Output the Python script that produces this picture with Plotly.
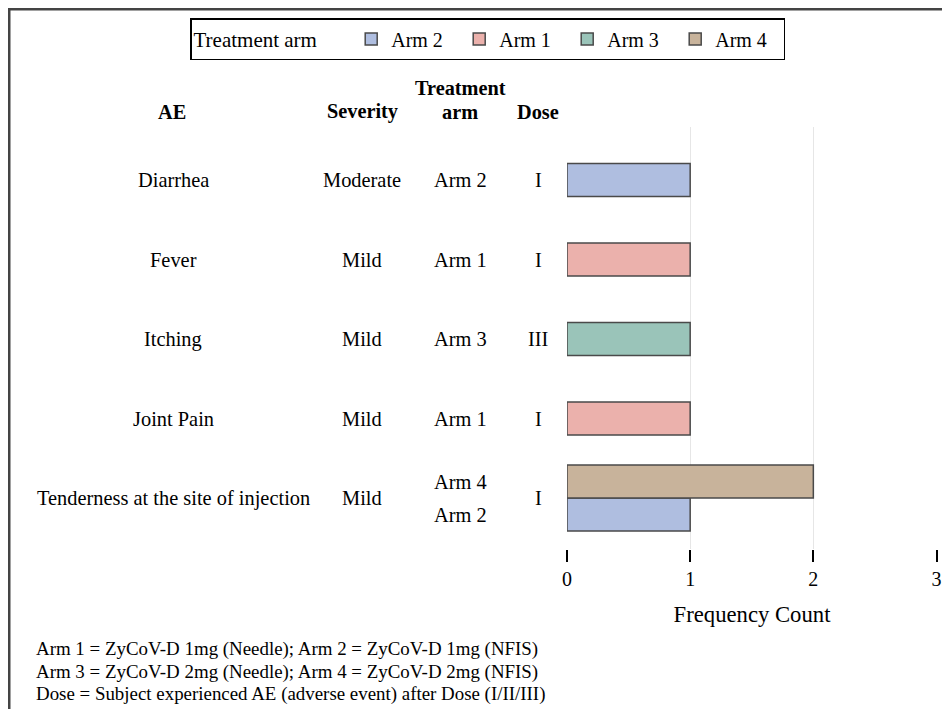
import plotly.graph_objects as go

# ---------------- data ----------------
ae_terms = ["Diarrhea", "Fever", "Itching", "Joint Pain", "Tenderness at the site of injection"]
severity = ["Moderate", "Mild", "Mild", "Mild", "Mild"]
dose = ["I", "I", "III", "I", "I"]

arm2_ae = ["Diarrhea", "Tenderness at the site of injection"]
arm2_count = [1, 1]
arm1_ae = ["Fever", "Joint Pain"]
arm1_count = [1, 1]
arm3_ae = ["Itching"]
arm3_count = [1]
arm4_ae = ["Tenderness at the site of injection"]
arm4_count = [2]

# order of bars (top to bottom) inside each AE row
row_arms = {
    "Diarrhea": ["Arm 2"],
    "Fever": ["Arm 1"],
    "Itching": ["Arm 3"],
    "Joint Pain": ["Arm 1"],
    "Tenderness at the site of injection": ["Arm 4", "Arm 2"],
}

x_ticks = [0, 1, 2, 3]

# ---------------- layout helpers ----------------
# page is 950x717; the html body has an 8px margin
W, H = 950, 717
OFF = 8
FW, FH = W - 2 * OFF, H - 2 * OFF
PL, PR, PT, PB = 567, 937, 127, 549  # page pixel positions of plot area


def fx(px):
    return (px - PL) / (PR - PL)


def fy(py):
    return (PB - py) / (PB - PT)


BW = 0.415
FONT = "Liberation Serif"

colors = {
    "Arm 2": "#AFBEE0",
    "Arm 1": "#EBB1AC",
    "Arm 3": "#9AC4B9",
    "Arm 4": "#C8B39B",
}


def offsets(arm, aes):
    out = []
    for a in aes:
        arms = row_arms[a]
        n = len(arms)
        i = arms.index(arm)
        out.append(-n * BW / 2 + i * BW)
    return out


fig = go.Figure()
for name, aes, cnt in [("Arm 2", arm2_ae, arm2_count), ("Arm 1", arm1_ae, arm1_count),
                       ("Arm 3", arm3_ae, arm3_count), ("Arm 4", arm4_ae, arm4_count)]:
    fig.add_trace(go.Bar(
        name=name, x=cnt, y=aes, orientation="h",
        width=[BW] * len(aes), offset=offsets(name, aes),
        marker=dict(color=colors[name], line=dict(color="#4a4a4a", width=1.5)),
    ))

annotations = []
# headers
hdr = dict(font=dict(family=FONT, size=20.3, color="black"), xref="paper", yref="paper",
           showarrow=False, xanchor="center", yanchor="middle")
annotations.append(dict(text="<b>AE</b>", x=fx(172), y=fy(112), **hdr))
annotations.append(dict(text="<b>Severity</b>", x=fx(362), y=fy(112), **hdr))
annotations.append(dict(text="<b>Treatment</b>", x=fx(460), y=fy(88), **hdr))
annotations.append(dict(text="<b>arm</b>", x=fx(460), y=fy(112), **hdr))
annotations.append(dict(text="<b>Dose</b>", x=fx(538), y=fy(112), **hdr))

cell = dict(font=dict(family=FONT, size=20.4, color="black"), xref="paper", yref="y",
            showarrow=False, xanchor="center", yanchor="middle")
for a, s, d in zip(ae_terms, severity, dose):
    annotations.append(dict(text=a, x=fx(173), y=a, **cell))
    annotations.append(dict(text=s, x=fx(362), y=a, **cell))
    annotations.append(dict(text=d, x=fx(538), y=a, **cell))
    arms = row_arms[a]
    n = len(arms)
    for i, arm in enumerate(arms):
        shift = -(i - (n - 1) / 2) * 33
        annotations.append(dict(text=arm, x=fx(460), y=a, yshift=shift, **cell))

foot = dict(font=dict(family=FONT, size=18.9, color="black"), xref="paper", yref="paper",
            showarrow=False, xanchor="left", yanchor="middle")
annotations.append(dict(text="Arm 1 = ZyCoV-D 1mg (Needle); Arm 2 = ZyCoV-D 1mg (NFIS)", x=fx(34), y=fy(649), **foot))
annotations.append(dict(text="Arm 3 = ZyCoV-D 2mg (Needle); Arm 4 = ZyCoV-D 2mg (NFIS)", x=fx(34), y=fy(672), **foot))
annotations.append(dict(text="Dose = Subject experienced AE (adverse event) after Dose (I/II/III)", x=fx(34), y=fy(694), **foot))

shapes = [
    dict(type="line", xref="paper", yref="paper", x0=fx(7), y0=fy(9), x1=fx(960), y1=fy(9),
         line=dict(color="#444444", width=3)),
    dict(type="line", xref="paper", yref="paper", x0=fx(9), y0=fy(7.5), x1=fx(9), y1=fy(730),
         line=dict(color="#444444", width=3)),
]

fig.update_layout(
    width=FW, height=FH,
    margin=dict(l=PL - OFF, r=(OFF + FW) - PR, t=PT - OFF, b=(H - OFF) - PB, pad=0,
                autoexpand=False),
    paper_bgcolor="white", plot_bgcolor="white",
    barmode="overlay",
    font=dict(family=FONT, size=20, color="black"),
    xaxis=dict(range=[0, 3.004], tickvals=x_ticks, ticks="outside", ticklen=12, tickwidth=2,
               tickcolor="black", showline=False, zeroline=False, showgrid=True,
               gridcolor="#E6E6E6", gridwidth=1, ticklabeloverflow="allow", automargin=False,
               tickfont=dict(family=FONT, size=20),
               title=dict(text="Frequency Count", font=dict(family=FONT, size=22.7), standoff=17)),
    yaxis=dict(type="category", categoryorder="array", categoryarray=ae_terms,
               range=[4.64, -0.667], showticklabels=False, showgrid=False, zeroline=False,
               showline=False, ticks="", automargin=False),
    legend=dict(orientation="h", x=fx(190), xanchor="left", y=fy(18), yanchor="top",
                title=dict(text="Treatment arm\u00a0\u00a0\u00a0\u00a0\u00a0", font=dict(family=FONT, size=21)),
                font=dict(family=FONT, size=20), bordercolor="black", borderwidth=1.5,
                bgcolor="white", entrywidth=63, entrywidthmode="pixels",
                itemclick=False),
    annotations=annotations,
    shapes=shapes,
    showlegend=True,
)

fig.write_html("out.html")
